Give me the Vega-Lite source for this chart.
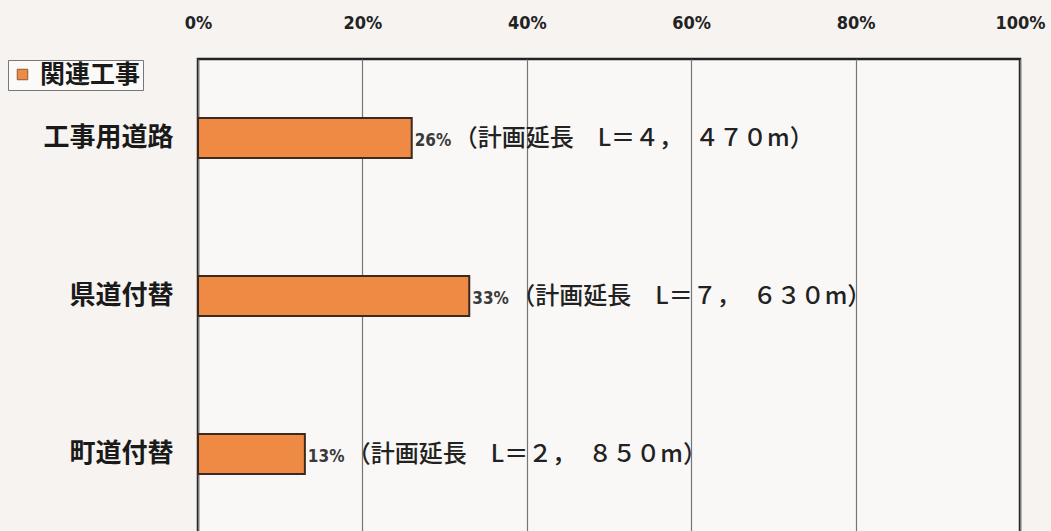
{
  "$schema": "https://vega.github.io/schema/vega-lite/v6.json",
  "width": 822,
  "height": 474,
  "autosize": "none",
  "padding": {"left": 198, "top": 59, "right": 31, "bottom": 0},
  "background": "#f6f3f0",
  "config": {
    "view": {"stroke": "#222222", "strokeWidth": 2.5, "fill": "#faf8f6"},
    "font": "Noto Sans CJK JP"
  },
  "data": {
    "values": [
      {"category": "工事用道路", "share": 0.26, "pct": "26%", "detail": "（計画延長　L＝４，　４７０m）", "series": "関連工事"},
      {"category": "県道付替", "share": 0.33, "pct": "33%", "detail": "（計画延長　L＝７，　６３０m）", "series": "関連工事"},
      {"category": "町道付替", "share": 0.13, "pct": "13%", "detail": "（計画延長　L＝２，　８５０m）", "series": "関連工事"}
    ]
  },
  "encoding": {
    "y": {
      "field": "category",
      "type": "nominal",
      "sort": null,
      "scale": {"paddingInner": 0.747, "paddingOuter": 0.3735},
      "axis": {
        "title": null,
        "ticks": false,
        "domain": false,
        "labelFontSize": 26,
        "labelFontWeight": "bold",
        "labelColor": "#1a1a1a",
        "labelPadding": 25
      }
    },
    "x": {
      "field": "share",
      "type": "quantitative",
      "scale": {"domain": [0, 1], "nice": false},
      "axis": {
        "orient": "top",
        "title": null,
        "format": ".0%",
        "values": [0, 0.2, 0.4, 0.6, 0.8, 1],
        "ticks": false,
        "tickSize": 0,
        "domain": false,
        "labelFontSize": 18,
        "labelFont": "DejaVu Sans Condensed",
        "labelFontWeight": "bold",
        "labelColor": "#222222",
        "labelPadding": 27,
        "gridColor": "#777777",
        "gridWidth": 1.2,
        "labelFlush": false
      }
    }
  },
  "layer": [
    {
      "mark": {"type": "bar", "stroke": "#3a2a20", "strokeWidth": 2},
      "encoding": {
        "color": {
          "field": "series",
          "type": "nominal",
          "scale": {"range": ["#ef8a45"]},
          "legend": {
            "title": null,
            "orient": "none",
            "legendX": -190,
            "legendY": 1,
            "symbolType": "square",
            "symbolSize": 110,
            "symbolStrokeColor": "#8a5a3a",
            "symbolStrokeWidth": 1,
            "labelFontSize": 25,
            "labelFontWeight": "bold",
            "labelColor": "#1a1a1a",
            "strokeColor": "#777777",
            "fillColor": "#fbfaf8",
            "padding": 2,
            "labelOffset": 5
          }
        }
      }
    },
    {
      "mark": {"type": "text", "align": "left", "baseline": "middle", "dx": 3, "dy": 3, "fontSize": 17, "font": "DejaVu Sans Condensed", "fontWeight": "bold", "color": "#3a3a3a"},
      "encoding": {"text": {"field": "pct"}}
    },
    {
      "mark": {"type": "text", "align": "left", "baseline": "middle", "dx": 42, "dy": 1, "fontSize": 24, "fontWeight": 500, "color": "#222222"},
      "encoding": {"text": {"field": "detail"}}
    }
  ]
}
